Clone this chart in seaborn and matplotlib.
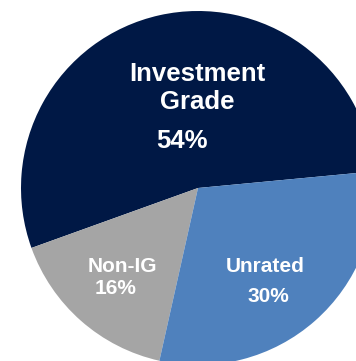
import matplotlib
matplotlib.use("Agg")
import matplotlib.pyplot as plt
import seaborn as sns

# Rating mix of the portfolio
categories = ["Investment Grade", "Non-IG", "Unrated"]
shares = [54, 16, 30]
colors = ["#001845", "#a5a5a5", "#4f81bd"]

sns.set_theme(style="white")
plt.rcParams["font.family"] = ["Liberation Sans", "DejaVu Sans"]

W, H = 356, 361
fig = plt.figure(figsize=(W / 100, H / 100), dpi=100)
ax = fig.add_axes([0, 0, 1, 1])

ax.pie(shares, colors=colors, startangle=5.4, counterclock=True,
       radius=1.0, wedgeprops=dict(linewidth=0))

# pie centre sits at pixel (198, 188) with a 177 px radius; the disc runs off the right and bottom
cx, cy, r = 198, 188, 177
ax.set_xlim(-cx / r, (W - cx) / r)
ax.set_ylim(-(H - cy) / r, cy / r)
ax.set_aspect("auto")
ax.axis("off")

def label(text, px, py, size):
    ax.text(px / W, 1 - py / H, text, transform=ax.transAxes, color="white",
            fontsize=size, fontweight="bold", ha="center", va="center",
            linespacing=1.2)

label("Investment\nGrade", 197, 88, 18.5)
label(f"{shares[0]}%", 182, 141, 18.5)
label("Non-IG", 122, 266, 15)
label(f"{shares[1]}%", 116, 289, 15)
label("Unrated", 265, 266, 15)
label(f"{shares[2]}%", 268, 297, 15)

fig.savefig("out.png", dpi=100, facecolor="white")
